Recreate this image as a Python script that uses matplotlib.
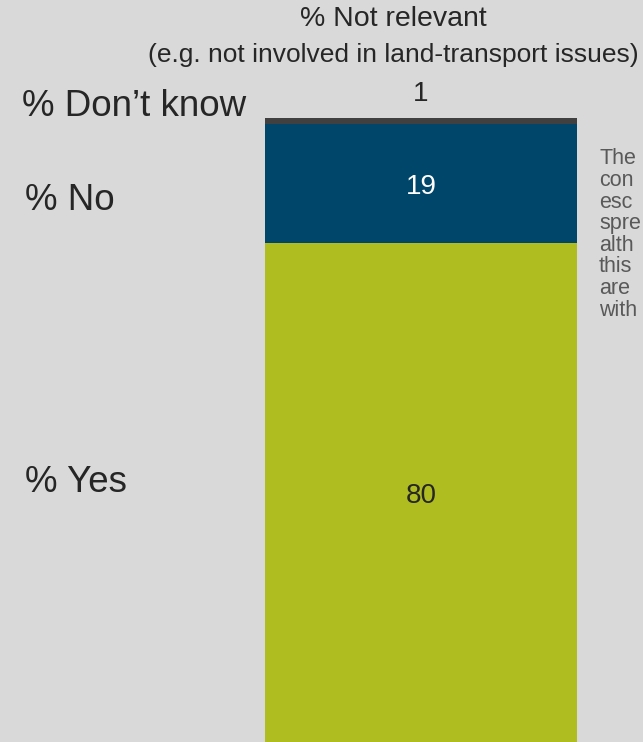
import matplotlib.pyplot as plt

plt.rcParams['font.family'] = ['Liberation Sans', 'DejaVu Sans']

# data
categories = ['% Yes', '% No', '% Don\u2019t know']
values = [80, 19, 1]
colors = ['#afbd21', '#00466a', '#404040']
label_colors = ['#262626', '#ffffff', '#262626']

note_lines = ['The', 'con', 'esc', 'spre', 'alth', 'this', 'are', 'with']

W, H = 643, 742
fig = plt.figure(figsize=(W / 100, H / 100), dpi=100, facecolor='#d9d9d9')

# axes placed so that the stacked bar fills it (0..100 %)
ax = fig.add_axes([265 / W, (H - 744) / H, 312 / W, 626 / H])
ax.set_facecolor('none')
ax.set_xlim(-0.5, 0.5)
ax.set_ylim(0, 100)
ax.axis('off')

bottom = 0
for cat, v, c, lc in zip(categories, values, colors, label_colors):
    ax.bar(0, v, width=1, bottom=bottom, color=c, linewidth=0)
    if v >= 5:
        ax.text(0, bottom + v / 2 - 0.45, f'{v}', ha='center', va='center',
                fontsize=20, color=lc)
    else:
        ax.text(0, bottom + v + 3.8, f'{v}', ha='center', va='center',
                fontsize=20, color=lc)
    bottom += v

# left category labels
fig.text(22 / W, 1 - 106 / H, categories[2], fontsize=26.5, color='#262626',
         ha='left', va='center')
fig.text(25 / W, 1 - 200 / H, categories[1], fontsize=26.5, color='#262626',
         ha='left', va='center')
fig.text(25 / W, 1 - 483 / H, categories[0], fontsize=26.5, color='#262626',
         ha='left', va='center')

# header
fig.text(393 / W, 1 - 19 / H, '% Not relevant', fontsize=20.5, color='#262626',
         ha='center', va='center')
fig.text(393 / W, 1 - 55 / H, '(e.g. not involved in land-transport issues)',
         fontsize=19, color='#262626', ha='center', va='center')

# cut-off note on the right
for i, line in enumerate(note_lines):
    fig.text(599 / W, 1 - (159 + 21.6 * i) / H, line, fontsize=15.5,
             color='#595959', ha='left', va='center')

plt.savefig('out.png', dpi=100, facecolor=fig.get_facecolor())
